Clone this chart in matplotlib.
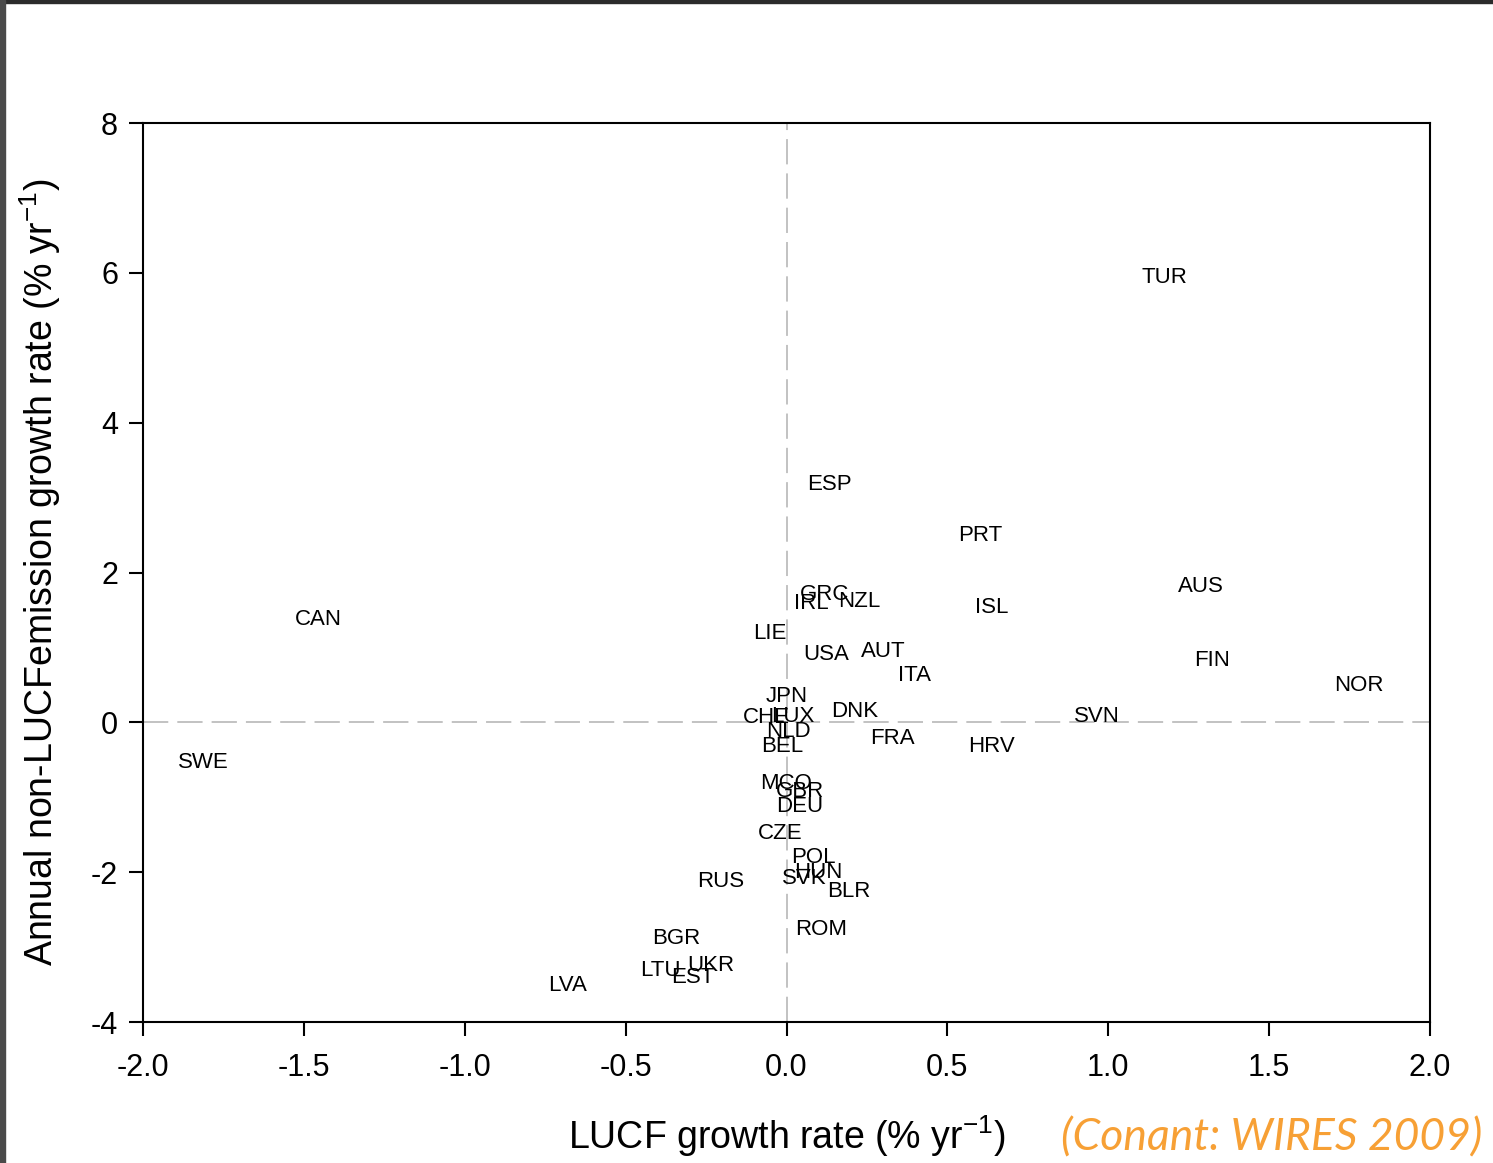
import matplotlib
matplotlib.use('Agg')
import matplotlib.pyplot as plt
from matplotlib.patches import Rectangle

plt.rcParams['font.family'] = ['Liberation Sans', 'DejaVu Sans']
plt.rcParams['mathtext.default'] = 'regular'
plt.rcParams['axes.unicode_minus'] = False

# country labels placed at (LUCF growth, non-LUCF growth)
countries = ['TUR', 'ESP', 'PRT', 'AUS', 'GRC', 'IRL', 'NZL', 'ISL', 'CAN', 'LIE',
             'USA', 'AUT', 'FIN', 'ITA', 'NOR', 'JPN', 'CHE', 'LUX', 'DNK', 'SVN',
             'NLD', 'FRA', 'HRV', 'BEL', 'SWE', 'MCO', 'GBR', 'DEU', 'CZE', 'POL',
             'HUN', 'SVK', 'RUS', 'BLR', 'ROM', 'BGR', 'UKR', 'LTU', 'EST', 'LVA']
lucf_growth = [1.176, 0.132, 0.601, 1.288, 0.117, 0.076, 0.225, 0.639, -1.456, -0.051,
               0.123, 0.300, 1.322, 0.399, 1.779, 0.000, -0.064, 0.020, 0.213, 0.965,
               0.005, 0.328, 0.636, -0.014, -1.814, -0.002, 0.042, 0.042, -0.020, 0.082,
               0.098, 0.054, -0.204, 0.194, 0.107, -0.343, -0.235, -0.393, -0.291, -0.682]
nonlucf_growth = [5.94, 3.17, 2.50, 1.81, 1.71, 1.59, 1.61, 1.53, 1.37, 1.19,
                  0.91, 0.95, 0.83, 0.62, 0.49, 0.34, 0.06, 0.08, 0.14, 0.08,
                  -0.12, -0.21, -0.32, -0.32, -0.54, -0.81, -0.92, -1.12, -1.48, -1.80,
                  -2.00, -2.09, -2.13, -2.26, -2.77, -2.88, -3.24, -3.31, -3.41, -3.51]

xticks = [-2.0, -1.5, -1.0, -0.5, 0.0, 0.5, 1.0, 1.5, 2.0]
yticks = [-4, -2, 0, 2, 4, 6, 8]

fig = plt.figure(figsize=(14.93, 11.63), dpi=100)
fig.patch.set_facecolor('white')
ax = fig.add_axes([0.0958, 0.1212, 0.862, 0.773])

ax.axvline(0, color='#bdbdbd', lw=1.3, dashes=(14, 5), zorder=0)
ax.axhline(0, color='#bdbdbd', lw=1.3, dashes=(14, 5), zorder=0)

for name, x, y in zip(countries, lucf_growth, nonlucf_growth):
    ax.text(x, y, name, fontsize=16, ha='center', va='center', color='black')

ax.set_xlim(-2, 2)
ax.set_ylim(-4, 8)
ax.set_xticks(xticks)
ax.set_xticklabels(['%.1f' % v for v in xticks])
ax.set_yticks(yticks)
ax.tick_params(axis='both', direction='out', length=10, width=1.5, labelsize=22,
               top=False, right=False)
ax.tick_params(axis='x', pad=12)
ax.tick_params(axis='y', pad=8)
for s in ax.spines.values():
    s.set_linewidth(1.5)

ax.set_xlabel('LUCF growth rate (% yr$^{-1}$)', fontsize=27, labelpad=22)
ax.set_ylabel('Annual non-LUCFemission growth rate (% yr$^{-1}$)', fontsize=27, labelpad=20)

fig.text(0.993, 0.004, '(Conant: WIRES 2009)', fontsize=32, style='italic',
         color='#f7a035', family=['Lato', 'DejaVu Sans'], ha='right', va='bottom')

# screenshot frame edges
fig.add_artist(Rectangle((0, 0.997), 1, 0.003, transform=fig.transFigure,
                         color='#2b2b2b', zorder=10))
fig.add_artist(Rectangle((0, 0), 0.0035, 1, transform=fig.transFigure,
                         color='#4a4a4a', zorder=10))

fig.savefig('out.png', dpi=100, facecolor='white')
